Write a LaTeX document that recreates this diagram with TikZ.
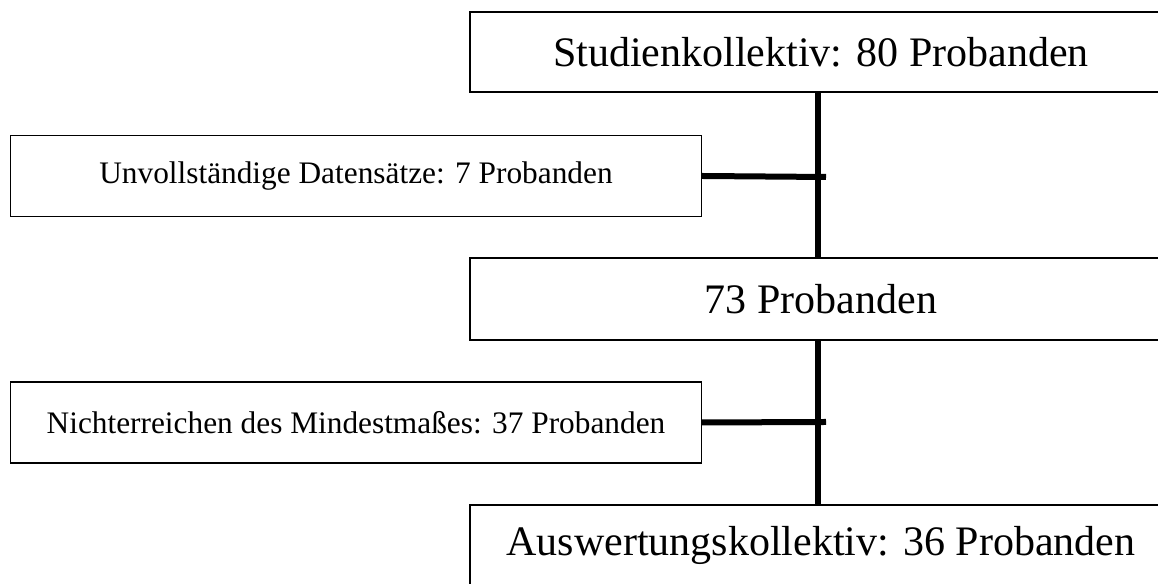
\documentclass[tikz,border=0pt]{standalone}
\usepackage{fontspec}
\setmainfont{Liberation Serif}
\tikzset{
 bigbox/.style={draw, line width=1.1pt, minimum width=526.5pt, minimum height=60pt, inner sep=0pt, font=\fontsize{31.5}{36}\selectfont},
 smallbox/.style={draw, line width=1.1pt, minimum width=518pt, minimum height=61pt, inner sep=0pt, font=\fontsize{23.5}{28}\selectfont},
 conn/.style={line width=4.5pt}
}
\begin{document}
\begin{tikzpicture}[x=0.75pt,y=0.75pt]

 \useasboundingbox (0,0) rectangle (1158,584);
 \clip (0,0) rectangle (1158,584);

 \node[bigbox] (start) at (821,532) {Studienkollektiv: 80 Probanden};
 \node[smallbox] (drop1) at (356,408) {Unvollständige Datensätze: 7 Probanden};
 \node[bigbox, minimum height=61.5pt] (mid) at (821,285) {73 Probanden};
 \node[smallbox] (drop2) at (356,161.5) {Nichterreichen des Mindestmaßes: 37 Probanden};
 \node[bigbox] (final) at (821,39) {Auswertungskollektiv: 36 Probanden};

 \coordinate (axis) at (818,0); %line through the main boxes
 \coordinate (j1) at (826,407);
 \coordinate (j2) at (826,162);

 \draw[conn] (start.south -| axis) -- (mid.north -| axis);
 \draw[conn] (mid.south -| axis) -- (final.north -| axis);
 \draw[conn] (drop1.east) -- (j1);
 \draw[conn] (drop2.east) -- (j2);

\end{tikzpicture}
\end{document}
